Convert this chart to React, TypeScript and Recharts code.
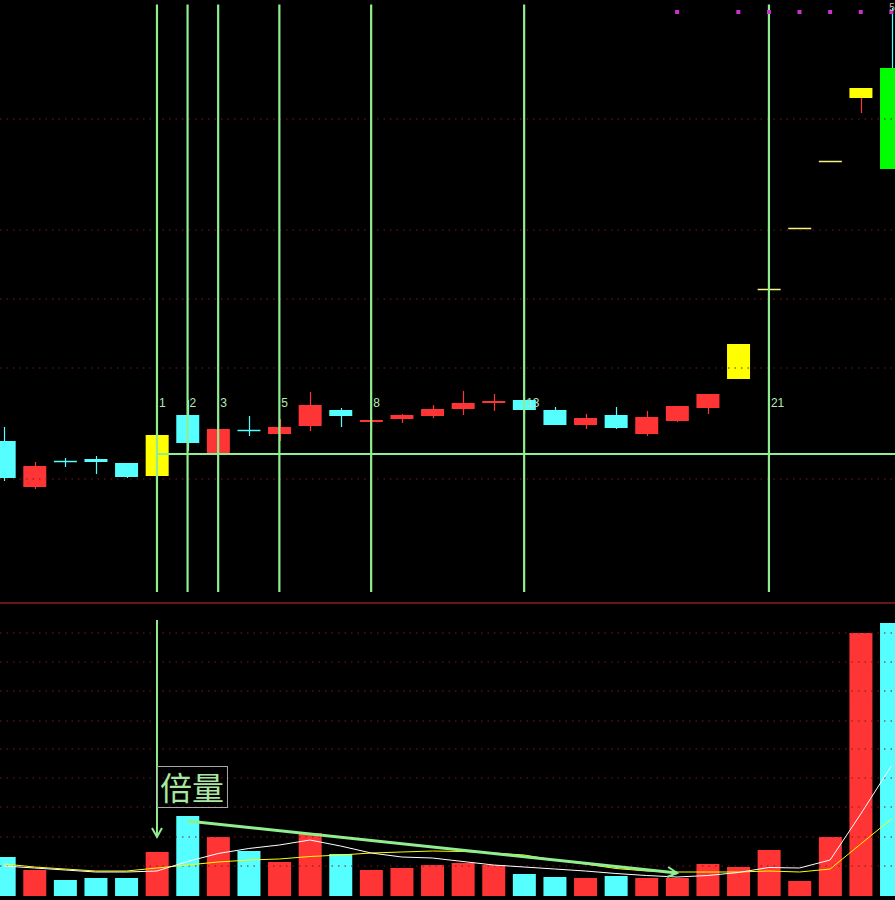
import React from 'react';
import { ComposedChart, Bar, Line, XAxis, YAxis, ReferenceLine, ReferenceDot, Cell } from 'recharts';

// ---- data ----
const idx = [-4, -3, -2, -1, 0, 1, 2, 3, 4, 5, 6, 7, 8, 9, 10, 11, 12, 13, 14, 15, 16, 17, 18, 19, 20, 21, 22, 23, 24, 25];
const opens = [9.16, 8.24, 8.77, 8.8, 8.72, 8.46, 9.68, 8.92, 9.39, 9.3, 9.46, 9.78, 9.54, 9.6, 9.66, 9.8, 9.92, 9.98, 9.78, 9.48, 9.68, 9.3, 9.56, 9.82, 10.4, 12.2, 13.42, 14.76, 16.02, 16.62];
const closes = [8.42, 8.66, 8.76, 8.74, 8.44, 9.28, 9.12, 9.4, 9.38, 9.44, 9.88, 9.66, 9.58, 9.68, 9.8, 9.92, 9.96, 9.78, 9.48, 9.62, 9.42, 9.64, 9.86, 10.1, 11.1, 12.2, 13.42, 14.76, 16.22, 14.6];
const highs = [9.44, 8.74, 8.82, 8.86, 8.72, 9.28, 9.98, 9.54, 9.66, 9.6, 10.14, 9.82, 9.64, 9.7, 9.88, 10.16, 10.1, 10.0, 9.84, 9.7, 9.84, 9.76, 9.86, 10.1, 11.1, 12.2, 13.42, 14.76, 16.22, 17.82];
const lows = [8.36, 8.2, 8.64, 8.5, 8.42, 8.46, 8.96, 8.92, 9.26, 9.16, 9.36, 9.44, 9.4, 9.52, 9.62, 9.68, 9.76, 9.7, 9.48, 9.4, 9.4, 9.26, 9.54, 9.7, 10.4, 12.2, 13.42, 14.76, 15.72, 14.6];
const volumes = [390, 260, 160, 180, 180, 440, 800, 590, 450, 340, 630, 420, 260, 280, 310, 330, 310, 220, 190, 180, 200, 180, 180, 320, 290, 460, 150, 590, 2630, 2730];
const ma5 = [300, 280, 260, 240, 240, 250, 345, 425, 475, 510, 560, 500, 430, 390, 380, 345, 310, 290, 270, 250, 225, 205, 190, 205, 235, 285, 280, 360, 820, 1300];
const ma10 = [320, 290, 270, 250, 250, 280, 310, 340, 360, 370, 395, 410, 430, 440, 450, 445, 430, 410, 360, 320, 275, 250, 240, 240, 240, 250, 240, 270, 520, 770];

const fibIdx = [1, 2, 3, 5, 8, 13, 21];
const fibLabels = ['1', '2', '3', '5', '8', '13', '21'];
const limitDotIdx = [18, 20, 21, 22, 23, 24, 25];
const priceGrid = [15.6, 13.38, 12.0, 10.62, 8.4];
const volGrid = [300, 590, 890, 1180, 1470, 1750, 2050, 2340, 2630];
const baseLinePrice = 8.9;
const trendIdx = [2, 18];
const trendVol = [750, 230];
const signalText = '倍量';

// ---- derived ----
const RED = '#ff3434';
const CYAN = '#55ffff';
const YELLOW = '#ffff00';
const LGREEN = '#00ff00';
const MARK = '#90ee90';

const candles = idx.map((i, k) => {
  const open = opens[k], close = closes[k], high = highs[k], low = lows[k];
  const prev = k > 0 ? closes[k - 1] : open;
  const up = close > open || (close === open && close >= prev);
  const flat = open === close && high === low && open === high;
  const limitUp = k > 0 && close >= prev * 1.095;
  const limitDown = k > 0 && close <= prev * 0.905;
  return { i, open, close, high, low, up, flat, limitUp, limitDown };
});

const volRows = idx.map((i, k) => {
  const t = trendIdx.indexOf(i);
  return { i, vol: volumes[k], ma5: ma5[k], ma10: ma10[k], trend: t >= 0 ? trendVol[t] : null };
});

const X_DOMAIN: [number, number] = [-4.13, 25.12];

const CandleShape = (props: any) => {
  const { x, y, width, height, payload } = props;
  if (x == null || y == null) return null;
  const { open, close, high, low, up, flat, limitUp, limitDown } = payload;
  const top = Math.min(y, y + height);
  const h = Math.abs(height);
  const span = high - low;
  const py = (v: number) => (span > 0 ? top + ((high - v) / span) * h : top);
  const cx = Math.round(x + width / 2) + 0.5;
  const base = up ? RED : CYAN;
  if (flat) {
    const yy = Math.round(top) + 0.5;
    return <line x1={x} x2={x + width} y1={yy} y2={yy} stroke="#f4f488" strokeWidth={1.5} />;
  }
  const bodyColor = limitUp ? YELLOW : limitDown ? LGREEN : base;
  const bt = py(Math.max(open, close));
  const bb = py(Math.min(open, close));
  return (
    <g>
      <line x1={cx} x2={cx} y1={py(high)} y2={py(low)} stroke={base} strokeWidth={1.2} />
      {bb - bt < 1.5 ? (
        <line x1={x} x2={x + width} y1={Math.round(bt) + 0.5} y2={Math.round(bt) + 0.5} stroke={bodyColor} strokeWidth={1.5} />
      ) : (
        <rect x={x} y={bt} width={width} height={bb - bt} fill={bodyColor} />
      )}
    </g>
  );
};

const FibLabel = (txt: string) => (p: any) => (
  <text x={p.cx + 2} y={p.cy + 4} fontSize={12} fill="#b4e8b4" fontFamily="Liberation Sans, Arial, sans-serif">
    {txt}
  </text>
);

const PurpleDot = (p: any) => <rect x={p.cx - 2} y={p.cy - 2} width={4} height={4} fill="#cc33cc" />;

const TopText = (p: any) => (
  <text x={p.cx - 2} y={p.cy + 3} fontSize={10} fill="#bbbbbb" fontFamily="Liberation Sans, Arial, sans-serif">5</text>
);

const ArrowRight = (p: any) => (
  <path d={`M${p.cx - 9},${p.cy - 6} L${p.cx},${p.cy} L${p.cx - 10},${p.cy + 4}`} stroke={MARK} strokeWidth={2} fill="none" />
);

const ArrowDown = (p: any) => (
  <path d={`M${p.cx - 5},${p.cy - 9} L${p.cx},${p.cy} L${p.cx + 5},${p.cy - 9}`} stroke={MARK} strokeWidth={2} fill="none" />
);

const SignalBox = (p: any) => (
  <g>
    <rect x={p.cx + 0.5} y={p.cy + 0.5} width={70} height={41} fill="none" stroke="#a8a8a8" strokeWidth={1} />
    <text x={p.cx + 35} y={p.cy + 34} textAnchor="middle" fontSize={32} fill="#a8e8a0" fontFamily="Noto Sans CJK SC, sans-serif">
      {signalText}
    </text>
  </g>
);

export default function App() {
  return (
    <div style={{ position: 'absolute', left: 0, top: 0, width: 895, height: 900, background: '#000', overflow: 'hidden' }}>
      <div style={{ position: 'absolute', left: 0, top: 0 }}>
        <ComposedChart width={895} height={600} data={candles} margin={{ top: 0, right: 0, bottom: 0, left: 0 }}>
          <XAxis dataKey="i" type="number" domain={X_DOMAIN} allowDataOverflow hide />
          <YAxis type="number" domain={[5.98, 17.98]} allowDataOverflow hide />
          {priceGrid.map((g) => (
            <ReferenceLine key={'pg' + g} y={g} stroke="#7a1a1a" strokeDasharray="1.5 5" />
          ))}
          <Bar dataKey={(d: any) => [d.low, d.high]} barSize={23} shape={CandleShape} isAnimationActive={false} />
          {fibIdx.map((f) => (
            <ReferenceLine key={'fv' + f} segment={[{ x: f, y: 17.89 }, { x: f, y: 6.14 }]} stroke={MARK} strokeWidth={2.2} ifOverflow="visible" />
          ))}
          <ReferenceLine segment={[{ x: 1, y: baseLinePrice }, { x: 25.12, y: baseLinePrice }]} stroke={MARK} strokeWidth={2} ifOverflow="visible" />
          {fibIdx.map((f, k) => (
            <ReferenceDot key={'fl' + f} x={f} y={9.92} r={1} shape={FibLabel(fibLabels[k])} ifOverflow="visible" />
          ))}
          {limitDotIdx.map((d) => (
            <ReferenceDot key={'ld' + d} x={d} y={17.74} r={2} shape={PurpleDot} ifOverflow="visible" />
          ))}
          <ReferenceDot x={25} y={17.82} r={1} shape={TopText} ifOverflow="visible" />
        </ComposedChart>
      </div>
      <div style={{ position: 'absolute', left: 0, top: 600 }}>
        <ComposedChart width={895} height={300} data={volRows} margin={{ top: 3, right: 0, bottom: 4, left: 0 }}>
          <XAxis dataKey="i" type="number" domain={X_DOMAIN} allowDataOverflow hide />
          <YAxis type="number" domain={[0, 2930]} allowDataOverflow hide />
          {volGrid.map((g) => (
            <ReferenceLine key={'vg' + g} y={g} stroke="#7a1a1a" strokeDasharray="1.5 5" />
          ))}
          <ReferenceLine y={2930} stroke="#8a1c1c" strokeWidth={1.5} ifOverflow="visible" />
          <Bar dataKey="vol" barSize={23} isAnimationActive={false}>
            {candles.map((c) => (
              <Cell key={'vc' + c.i} fill={c.up ? RED : CYAN} />
            ))}
          </Bar>
          <Line dataKey="ma10" type="linear" stroke="#ffff00" strokeWidth={1} dot={false} isAnimationActive={false} />
          <Line dataKey="ma5" type="linear" stroke="#ffffff" strokeWidth={1} dot={false} isAnimationActive={false} />
          <Line dataKey="trend" type="linear" stroke={MARK} strokeWidth={3} dot={false} connectNulls isAnimationActive={false} />
          <ReferenceDot x={trendIdx[1]} y={trendVol[1]} r={1} shape={ArrowRight} ifOverflow="visible" />
          <ReferenceLine segment={[{ x: 1, y: 2760 }, { x: 1, y: 590 }]} stroke={MARK} strokeWidth={2} ifOverflow="visible" />
          <ReferenceDot x={1} y={590} r={1} shape={ArrowDown} ifOverflow="visible" />
          <ReferenceDot x={1} y={1300} r={1} shape={SignalBox} ifOverflow="visible" />
        </ComposedChart>
      </div>
    </div>
  );
}
